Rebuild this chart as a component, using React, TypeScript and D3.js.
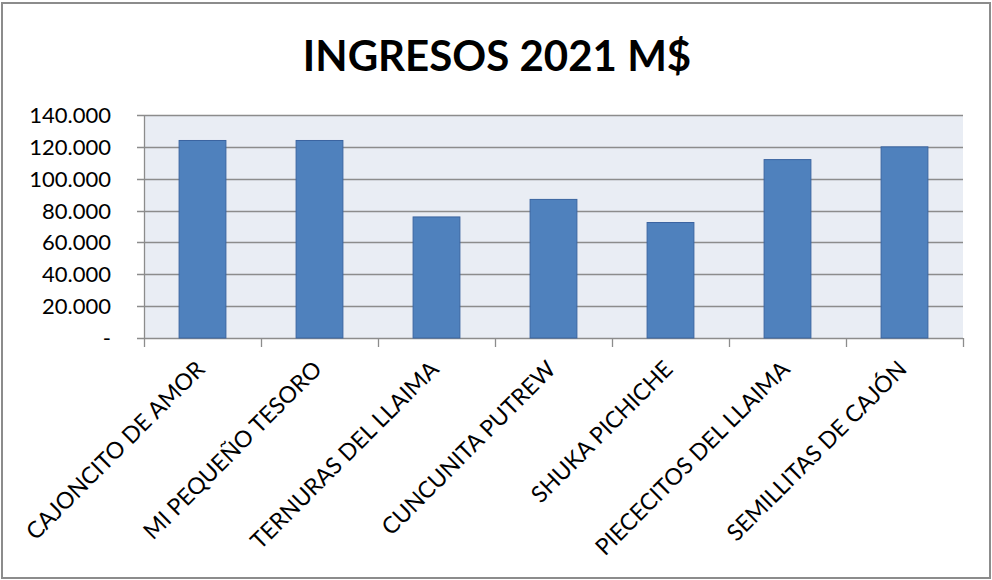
import * as d3 from 'd3';

const title = 'INGRESOS 2021 M$';
const categories = [
  'CAJONCITO DE AMOR',
  'MI PEQUEÑO TESORO',
  'TERNURAS DEL LLAIMA',
  'CUNCUNITA PUTREW',
  'SHUKA PICHICHE',
  'PIECECITOS DEL LLAIMA',
  'SEMILLITAS DE CAJÓN',
];
const ingresos = [124000, 124000, 76000, 87000, 72500, 112000, 120000];
const yTicks = [0, 20000, 40000, 60000, 80000, 100000, 120000, 140000];

const width = 992;
const height = 580;
const margin = { top: 115, right: 29, bottom: 242, left: 144 };
const font = 'Lato, Calibri, "Open Sans", sans-serif';

const fmt = (v: number) => (v === 0 ? '-' : d3.format(',')(v).replace(/,/g, '.'));

export default function App() {
  const innerWidth = width - margin.left - margin.right;
  const innerHeight = height - margin.top - margin.bottom;

  const x = d3.scaleBand().domain(categories).range([0, innerWidth]).padding(0);
  const y = d3.scaleLinear().domain([0, 140000]).range([innerHeight, 0]);
  const barW = x.bandwidth() * 0.4;

  return (
    <svg width={width} height={height} style={{ position: 'absolute', left: 0, top: 0 }}>
      <rect x={0} y={0} width={width} height={height} fill="#fff" />
      <rect x={2} y={3} width={988} height={575} fill="none" stroke="#8c8c8c" strokeWidth={2} />
      <text
        x={497}
        y={71}
        textAnchor="middle"
        fontFamily={font}
        fontWeight="bold"
        fontSize={42}
        fill="#000"
      >
        {title}
      </text>
      <g transform={`translate(${margin.left}, ${margin.top})`}>
        <rect x={0} y={0} width={innerWidth} height={innerHeight} fill="#e9edf4" />
        {yTicks.map(t => (
          <g key={t} transform={`translate(0, ${Math.round(y(t)) + 0.5})`}>
            <line x1={-7} x2={innerWidth} stroke="#8c8c8c" strokeWidth={1.3} />
            <text
              x={-33}
              dy="0.35em"
              textAnchor="end"
              fontFamily={font}
              fontSize={22}
              fill="#000"
            >
              {fmt(t)}
            </text>
          </g>
        ))}
        <line x1={0.5} x2={0.5} y1={0} y2={innerHeight + 9} stroke="#8c8c8c" strokeWidth={1.3} />
        {categories.map(c => (
          <line
            key={c}
            x1={x(c)! + x.bandwidth() + 0.5}
            x2={x(c)! + x.bandwidth() + 0.5}
            y1={innerHeight}
            y2={innerHeight + 9}
            stroke="#8c8c8c"
            strokeWidth={1.3}
          />
        ))}
        {categories.map((c, i) => (
          <rect
            key={c}
            x={x(c)! + (x.bandwidth() - barW) / 2}
            y={y(ingresos[i])}
            width={barW}
            height={innerHeight - y(ingresos[i])}
            fill="#4f81bd"
            stroke="#3a64a0"
            strokeWidth={1}
          />
        ))}
        {categories.map(c => (
          <text
            key={c}
            transform={`translate(${x(c)! + x.bandwidth() / 2 - 2}, ${innerHeight + 27}) rotate(-45)`}
            textAnchor="end"
            dy="0.35em"
            fontFamily={font}
            fontSize={23}
            fill="#000"
          >
            {c}
          </text>
        ))}
      </g>
    </svg>
  );
}
